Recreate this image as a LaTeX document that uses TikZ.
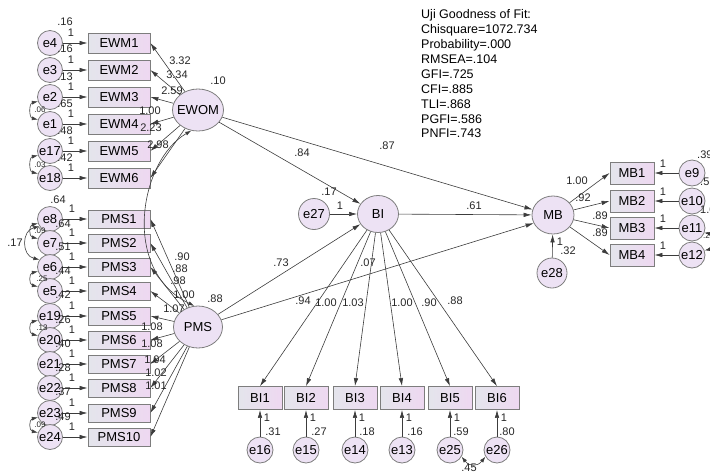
\documentclass[tikz,border=0pt]{standalone}
\usepackage{fontspec}
\setmainfont{Liberation Sans}
\usetikzlibrary{arrows.meta,shapes.geometric}

\definecolor{edgegray}{RGB}{60,60,60}
\definecolor{rimgray}{RGB}{125,125,125}
\definecolor{boxleft}{RGB}{228,229,236}
\definecolor{boxright}{RGB}{238,216,241}
\definecolor{ballfill}{RGB}{237,226,244}

\newcommand{\fitin}[1]{\makebox[0pt]{#1}}

\tikzset{
  obsbox/.style={rectangle, draw=rimgray, line width=0.8pt, left color=boxleft, right color=boxright,
    minimum width=62pt, minimum height=20pt, inner sep=0pt, font=\fontsize{13}{13}\selectfont},
  pmsbox/.style={obsbox, minimum height=18pt},
  smallbox/.style={obsbox, minimum width=44pt, minimum height=22pt},
  latent/.style={ellipse, draw=rimgray, line width=0.8pt, fill=ballfill, inner sep=0pt,
    font=\fontsize{13}{13}\selectfont},
  errball/.style={circle, draw=rimgray, line width=0.8pt, fill=ballfill, minimum size=25pt,
    inner sep=0pt, font=\fontsize{13}{13}\selectfont},
  arr/.style={draw=edgegray, line width=0.6pt, arrows={-Latex[length=8pt,width=4.5pt]}},
  cov/.style={draw=edgegray, line width=0.6pt, arrows={Latex[length=6pt,width=4pt]-Latex[length=6pt,width=4pt]}},
  num/.style={font=\fontsize{11}{11}\selectfont, inner sep=0pt, text=black!85},
  tiny/.style={font=\fontsize{8}{8}\selectfont, inner sep=0pt, text=black!85}
}

\begin{document}
\begin{tikzpicture}[x=1pt,y=-1pt]
    \useasboundingbox (0,0) rectangle (710,475);

    % Latent variables
    \node[latent, minimum width=51pt, minimum height=42pt] (EWOM) at (198,110) {\fitin{EWOM}};
    \node[latent, minimum width=49pt, minimum height=42pt] (PMS) at (198,327) {\fitin{PMS}};
    \node[latent, minimum width=41pt, minimum height=37pt] (BI) at (378,214) {\fitin{BI}};
    \node[latent, minimum width=42pt, minimum height=38pt] (MB) at (553,215) {\fitin{MB}};

    % EWOM indicators
    \node[obsbox] (EWM1) at (119,43) {EWM1};
    \node[obsbox] (EWM2) at (119,70) {EWM2};
    \node[obsbox] (EWM3) at (119,97) {EWM3};
    \node[obsbox] (EWM4) at (119,124) {EWM4};
    \node[obsbox] (EWM5) at (119,151) {EWM5};
    \node[obsbox] (EWM6) at (119,178) {EWM6};
    \node[errball] (e4) at (50,43) {e4};
    \node[errball] (e3) at (50,70) {e3};
    \node[errball] (e2) at (50,97) {e2};
    \node[errball] (e1) at (50,124) {e1};
    \node[errball] (e17) at (50,151) {e17};
    \node[errball] (e18) at (50,178) {e18};

    % PMS indicators
    \node[pmsbox] (PMS1) at (119,219) {PMS1};
    \node[pmsbox] (PMS2) at (119,243) {PMS2};
    \node[pmsbox] (PMS3) at (119,267) {PMS3};
    \node[pmsbox] (PMS4) at (119,291) {PMS4};
    \node[pmsbox] (PMS5) at (119,316) {PMS5};
    \node[pmsbox] (PMS6) at (119,340) {PMS6};
    \node[pmsbox] (PMS7) at (119,364) {PMS7};
    \node[pmsbox] (PMS8) at (119,388) {PMS8};
    \node[pmsbox] (PMS9) at (119,413) {PMS9};
    \node[pmsbox] (PMS10) at (119,437) {PMS10};
    \node[errball] (e8) at (50,219) {e8};
    \node[errball] (e7) at (50,243) {e7};
    \node[errball] (e6) at (50,267) {e6};
    \node[errball] (e5) at (50,291) {e5};
    \node[errball] (e19) at (50,316) {e19};
    \node[errball] (e20) at (50,340) {e20};
    \node[errball] (e21) at (50,364) {e21};
    \node[errball] (e22) at (50,388) {e22};
    \node[errball] (e23) at (50,413) {e23};
    \node[errball] (e24) at (50,437) {e24};

    % MB indicators
    \node[smallbox] (MB1) at (632,173) {MB1};
    \node[smallbox] (MB2) at (632,201) {MB2};
    \node[smallbox] (MB3) at (632,228) {MB3};
    \node[smallbox] (MB4) at (632,255) {MB4};
    \node[errball, minimum size=26pt] (e9) at (692,173) {e9};
    \node[errball, minimum size=26pt] (e10) at (692,201) {e10};
    \node[errball, minimum size=26pt] (e11) at (692,228) {e11};
    \node[errball, minimum size=26pt] (e12) at (692,255) {e12};

    % BI indicators
    \node[smallbox, minimum height=23pt] (BI1) at (260,398) {BI1};
    \node[smallbox, minimum height=23pt] (BI2) at (306,398) {BI2};
    \node[smallbox, minimum height=23pt] (BI3) at (355,398) {BI3};
    \node[smallbox, minimum height=23pt] (BI4) at (402,398) {BI4};
    \node[smallbox, minimum height=23pt] (BI5) at (450,398) {BI5};
    \node[smallbox, minimum height=23pt] (BI6) at (497,398) {BI6};
    \node[errball, minimum size=26pt] (e16) at (260,450) {e16};
    \node[errball, minimum size=26pt] (e15) at (306,450) {e15};
    \node[errball, minimum size=26pt] (e14) at (355,450) {e14};
    \node[errball, minimum size=26pt] (e13) at (402,450) {e13};
    \node[errball, minimum size=26pt] (e25) at (450,450) {e25};
    \node[errball, minimum size=26pt] (e26) at (497,450) {e26};

    % Disturbances
    \node[errball, minimum size=31pt] (e27) at (314,214) {e27};
    \node[errball, minimum size=30pt] (e28) at (552,273) {e28};

    % Error paths, left
    \draw[arr] (e4) -- (EWM1);
    \draw[arr] (e3) -- (EWM2);
    \draw[arr] (e2) -- (EWM3);
    \draw[arr] (e1) -- (EWM4);
    \draw[arr] (e17) -- (EWM5);
    \draw[arr] (e18) -- (EWM6);
    \draw[arr] (e8) -- (PMS1);
    \draw[arr] (e7) -- (PMS2);
    \draw[arr] (e6) -- (PMS3);
    \draw[arr] (e5) -- (PMS4);
    \draw[arr] (e19) -- (PMS5);
    \draw[arr] (e20) -- (PMS6);
    \draw[arr] (e21) -- (PMS7);
    \draw[arr] (e22) -- (PMS8);
    \draw[arr] (e23) -- (PMS9);
    \draw[arr] (e24) -- (PMS10);

    % Loadings
    \draw[arr] (EWOM) -- (EWM1.east);
    \draw[arr] (EWOM) -- (EWM2.east);
    \draw[arr] (EWOM) -- (EWM3.east);
    \draw[arr] (EWOM) -- (EWM4.east);
    \draw[arr] (EWOM) -- (EWM5.east);
    \draw[arr] (EWOM) -- (EWM6.east);
    \draw[arr] (PMS) -- (PMS1.east);
    \draw[arr] (PMS) -- (PMS2.east);
    \draw[arr] (PMS) -- (PMS3.east);
    \draw[arr] (PMS) -- (PMS4.east);
    \draw[arr] (PMS) -- (PMS5.east);
    \draw[arr] (PMS) -- (PMS6.east);
    \draw[arr] (PMS) -- (PMS7.east);
    \draw[arr] (PMS) -- (PMS8.east);
    \draw[arr] (PMS) -- (PMS9.east);
    \draw[arr] (PMS) -- (PMS10.east);
    \draw[arr] (MB) -- (MB1.west);
    \draw[arr] (MB) -- (MB2.west);
    \draw[arr] (MB) -- (MB3.west);
    \draw[arr] (MB) -- (MB4.west);
    \draw[arr] (BI) -- (BI1.north);
    \draw[arr] (BI) -- (BI2.north);
    \draw[arr] (BI) -- (BI3.north);
    \draw[arr] (BI) -- (BI4.north);
    \draw[arr] (BI) -- (BI5.north);
    \draw[arr] (BI) -- (BI6.north);

    % Error paths, right and bottom
    \draw[arr] (e9) -- (MB1);
    \draw[arr] (e10) -- (MB2);
    \draw[arr] (e11) -- (MB3);
    \draw[arr] (e12) -- (MB4);
    \draw[arr] (e16) -- (BI1);
    \draw[arr] (e15) -- (BI2);
    \draw[arr] (e14) -- (BI3);
    \draw[arr] (e13) -- (BI4);
    \draw[arr] (e25) -- (BI5);
    \draw[arr] (e26) -- (BI6);

    % Structural paths
    \draw[arr] (EWOM) -- (BI.150);
    \draw[arr] (e27) -- (BI);
    \draw[arr] (PMS) -- (BI.210);
    \draw[arr] (EWOM) -- (MB.165);
    \draw[arr] (BI) -- (MB);
    \draw[arr] (PMS) -- (MB.203);
    \draw[arr] (e28) -- (MB);

    % Covariances
    \draw[cov] (EWOM.252) .. controls (140,160) and (120,270) .. (PMS.100);
    \draw[cov] (e25.330) .. controls +(8,10) and +(-8,10) .. (e26.210);
    \draw[cov] (e8.215) .. controls +(-18,4) and +(-18,-4) .. (e6.145);
    \draw[cov] (e2.200) .. controls +(-9,2) and +(-9,-2) .. (e1.160);
    \draw[cov] (e17.200) .. controls +(-9,2) and +(-9,-2) .. (e18.160);
    \draw[cov] (e8.200) .. controls +(-9,2) and +(-9,-2) .. (e7.160);
    \draw[cov] (e6.200) .. controls +(-9,2) and +(-9,-2) .. (e5.160);
    \draw[cov] (e19.200) .. controls +(-9,2) and +(-9,-2) .. (e20.160);
    \draw[cov] (e23.200) .. controls +(-9,2) and +(-9,-2) .. (e24.160);
    \draw[cov] (e11.340) .. controls +(9,2) and +(9,-2) .. (e12.20);

    % Estimates, EWOM side
    \node[num] (v4) at (65,22) {.16};
    \node[num] (v3) at (65,49) {.16};
    \node[num] (v2) at (65,77) {.13};
    \node[num] (v1) at (65,104) {.65};
    \node[num] (v17) at (65,131) {.48};
    \node[num] (v18) at (65,158) {.42};
    \node[num] (f4) at (71,33) {1};
    \node[num] (f3) at (71,60) {1};
    \node[num] (f2) at (71,87) {1};
    \node[num] (f1) at (71,114) {1};
    \node[num] (f17) at (71,141) {1};
    \node[num] (f18) at (71,168) {1};
    \node[num] (w1) at (180,61) {3.32};
    \node[num] (w2) at (177,75) {3.34};
    \node[num] (w3) at (172,91) {2.59};
    \node[num] (w4) at (150,111) {1.00};
    \node[num] (w5) at (151,128) {2.23};
    \node[num] (w6) at (158,145) {2.98};
    \node[num] (vEWOM) at (218,81) {.10};

    % Estimates, PMS side
    \node[num] (v8) at (58,200) {.64};
    \node[num] (v7) at (63,224) {.64};
    \node[num] (v6) at (63,247) {.51};
    \node[num] (v5) at (63,271) {.44};
    \node[num] (v19) at (63,295) {.42};
    \node[num] (v20) at (63,320) {.26};
    \node[num] (v21) at (63,344) {.40};
    \node[num] (v22) at (63,368) {.28};
    \node[num] (v23) at (63,392) {.37};
    \node[num] (v24) at (63,417) {.49};
    \node[num] (f8) at (72,209) {1};
    \node[num] (f7) at (72,233) {1};
    \node[num] (f6) at (72,257) {1};
    \node[num] (f5) at (72,281) {1};
    \node[num] (f19) at (72,306) {1};
    \node[num] (f20) at (72,330) {1};
    \node[num] (f21) at (72,354) {1};
    \node[num] (f22) at (72,378) {1};
    \node[num] (f23) at (72,403) {1};
    \node[num] (f24) at (72,427) {1};
    \node[num] (p1) at (182,257) {.90};
    \node[num] (p2) at (180,269) {.88};
    \node[num] (p3) at (178,281) {.98};
    \node[num] (p4) at (184,295) {1.00};
    \node[num] (p5) at (174,309) {1.07};
    \node[num] (p6) at (152,327) {1.08};
    \node[num] (p7) at (152,344) {1.08};
    \node[num] (p8) at (155,360) {1.04};
    \node[num] (p9) at (156,373) {1.02};
    \node[num] (p10) at (156,386) {1.01};
    \node[num] (vPMS) at (215,299) {.88};
    \node[num] (c86) at (15,243) {.17};
    \node[tiny] (c21) at (40,110) {.06};
    \node[tiny] (c1718) at (40,165) {.03};
    \node[tiny] (c87) at (40,231) {.09};
    \node[tiny] (c65) at (42,279) {.25};
    \node[tiny] (c1920) at (42,328) {.13};
    \node[tiny] (c2324) at (40,425) {.09};

    % Estimates, structural part
    \node[num] (b1) at (302,153) {.84};
    \node[num] (b2) at (387,146) {.87};
    \node[num] (vBI) at (329,192) {.17};
    \node[num] (f27) at (340,206) {1};
    \node[num] (b3) at (281,263) {.73};
    \node[num] (b4) at (368,263) {.07};
    \node[num] (b5) at (474,206) {.61};
    \node[num] (f28) at (560,242) {1};
    \node[num] (v28) at (568,251) {.32};

    % Estimates, MB side
    \node[num] (m1) at (577,181) {1.00};
    \node[num] (m2) at (583,198) {.92};
    \node[num] (m3) at (600,216) {.89};
    \node[num] (m4) at (600,233) {.89};
    \node[num] (f9) at (663,164) {1};
    \node[num] (f10) at (663,192) {1};
    \node[num] (f11) at (663,219) {1};
    \node[num] (f12) at (663,246) {1};
    \node[num, anchor=west] (v9) at (697,155) {.39};
    \node[num, anchor=west] (v10) at (700,182) {.51};
    \node[num, anchor=west] (v11) at (700,210) {1.0};
    \node[tiny, anchor=west] (c1112) at (703,236) {.2};

    % Estimates, BI side
    \node[num] (q1) at (303,301) {.94};
    \node[num] (q2) at (326,303) {1.00};
    \node[num] (q3) at (353,303) {1.03};
    \node[num] (q4) at (402,303) {1.00};
    \node[num] (q5) at (429,303) {.90};
    \node[num] (q6) at (455,301) {.88};
    \node[num] (f16) at (267,418) {1};
    \node[num] (f15) at (313,418) {1};
    \node[num] (f14) at (362,418) {1};
    \node[num] (f13) at (409,418) {1};
    \node[num] (f25) at (457,418) {1};
    \node[num] (f26) at (504,418) {1};
    \node[num] (v16) at (273,432) {.31};
    \node[num] (v15) at (319,432) {.27};
    \node[num] (v14) at (367,432) {.18};
    \node[num] (v13) at (415,432) {.16};
    \node[num] (v25) at (461,432) {.59};
    \node[num] (v26) at (507,432) {.80};
    \node[num] (c2526) at (469,468) {.45};

    % Fit indices
    \node[anchor=north west, align=left, inner sep=0pt, font=\fontsize{12.5}{14.9}\selectfont] (fit) at (421,9.5)
      {Uji Goodness of Fit:\\Chisquare=1072.734\\Probability=.000\\RMSEA=.104\\GFI=.725\\CFI=.885\\TLI=.868\\PGFI=.586\\PNFI=.743};
\end{tikzpicture}
\end{document}
